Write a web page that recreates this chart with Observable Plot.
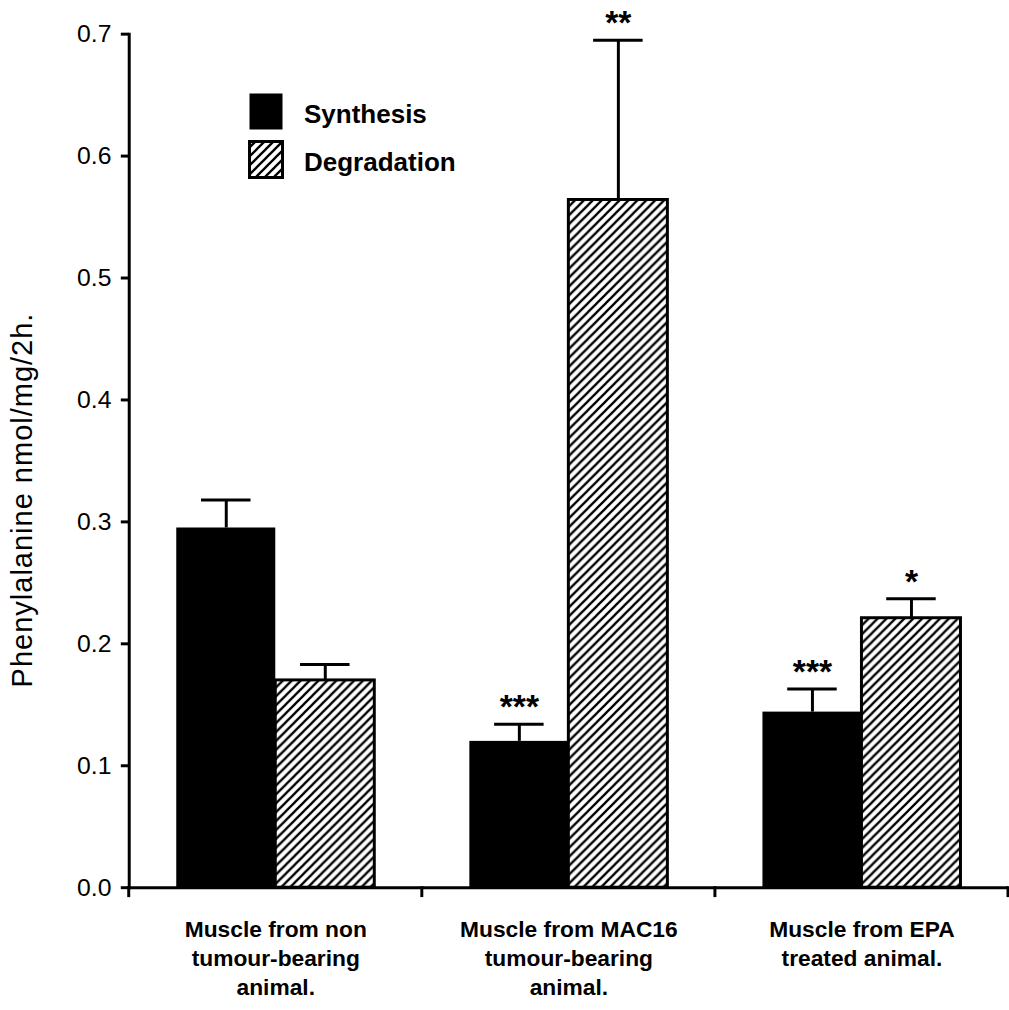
<!DOCTYPE html>
<html>
<head>
<meta charset="utf-8">
<script src="https://cdn.jsdelivr.net/npm/d3@7"></script>
<script src="https://cdn.jsdelivr.net/npm/@observablehq/plot@0.6"></script>
<style>
  html, body { margin: 0; padding: 0; background: #fff; }
  #wrap { position: relative; width: 1009px; height: 1010px; overflow: hidden; }
  #legend { position: absolute; left: 248px; top: 87px; font: bold 26px "Liberation Sans", Arial, sans-serif; color: #000; }
  .item { display: flex; align-items: center; height: 48px; }
  .item svg { margin-right: 20px; display: block; }
  .item span { position: relative; top: 3px; }
  #ytitle {
    position: absolute; left: 22px; top: 500px;
    transform: translate(-50%, -50%) rotate(-90deg);
    white-space: nowrap; font: 29px "Liberation Sans", Arial, sans-serif;
    letter-spacing: 1px; color: #000;
  }
</style>
</head>
<body>
<div id="wrap"><div id="legend"></div><div id="ytitle"></div></div>
<script>
// Protein turnover in gastrocnemius muscle, phenylalanine nmol/mg/2h (mean + SE)
const groups = [
  "Muscle from non\ntumour-bearing\nanimal.",
  "Muscle from MAC16\ntumour-bearing\nanimal.",
  "Muscle from EPA\ntreated animal."
];
const series = ["Synthesis", "Degradation"];
const synthesis = [0.295, 0.120, 0.144];
const synthesisSE = [0.023, 0.014, 0.019];
const degradation = [0.170, 0.564, 0.221];
const degradationSE = [0.013, 0.131, 0.016];
const synthesisSig = ["", "***", "***"];
const degradationSig = ["", "**", "*"];
const yTicks = [0, 0.1, 0.2, 0.3, 0.4, 0.5, 0.6, 0.7];
const yTitle = "Phenylalanine nmol/mg/2h.";

const rows = groups.flatMap((g, i) => [
  {group: g, series: "Synthesis", value: synthesis[i], se: synthesisSE[i], sig: synthesisSig[i]},
  {group: g, series: "Degradation", value: degradation[i], se: degradationSE[i], sig: degradationSig[i]}
]);
const errTop = d => d.value + d.se;

const font = "Liberation Sans, Arial, Helvetica, sans-serif";

const chart = Plot.plot({
  width: 1019,
  height: 1010,
  marginLeft: 129,
  marginRight: 0,
  marginTop: 34,
  marginBottom: 114,
  style: {fontFamily: font, background: "white", color: "black"},
  fx: {domain: groups, padding: 0},
  x: {domain: series, paddingInner: 0, paddingOuter: 0.48, axis: null},
  y: {domain: [0, 0.7]},
  marks: [
    Plot.barY(rows.filter(d => d.series === "Synthesis"), {
      fx: "group", x: "series", y: "value", fill: "black"
    }),
    Plot.barY(rows.filter(d => d.series === "Degradation"), {
      fx: "group", x: "series", y: "value", fill: "url(#hatch)", stroke: "black", strokeWidth: 3
    }),
    Plot.ruleX(rows, {fx: "group", x: "series", y1: "value", y2: errTop, stroke: "black", strokeWidth: 3}),
    Plot.tickY(rows, {fx: "group", x: "series", y: errTop, stroke: "black", strokeWidth: 3, insetLeft: 25, insetRight: 25}),
    Plot.text(rows, {fx: "group", x: "series", y: errTop, text: "sig", dy: -17, fontSize: 34, fontWeight: "bold"}),
    Plot.ruleY([0], {stroke: "black", strokeWidth: 3}),
    Plot.frame({anchor: "left", facetAnchor: "left", stroke: "black", strokeWidth: 3}),
    Plot.axisY({
      ticks: yTicks,
      tickFormat: d3.format(".1f"),
      tickSize: 8,
      tickPadding: 10,
      strokeWidth: 3,
      fontSize: 25,
      label: null
    }),
    Plot.axisFx({
      anchor: "bottom",
      tickSize: 0,
      tickPadding: 29,
      fontSize: 23,
      fontWeight: "bold",
      lineHeight: 1.27,
      label: null
    })
  ]
});

// Hatching for the degradation bars
const svg = d3.select(chart);
svg.insert("defs", ":first-child").html(
  `<pattern id="hatch" patternUnits="userSpaceOnUse" width="9" height="9">
     <rect width="9" height="9" fill="white"/>
     <path d="M-2,2 L2,-2 M0,9 L9,0 M7,11 L11,7" stroke="black" stroke-width="2.3"/>
   </pattern>`
);

// Short downward ticks on the category axis at the group boundaries
const fxScale = chart.scale("fx");
const yScale = chart.scale("y");
const y0 = yScale.apply(0);
const step = fxScale.step ?? fxScale.bandwidth;
const bounds = groups.map(g => fxScale.apply(g));
bounds.push(bounds[bounds.length - 1] + step);
svg.append("g")
  .attr("stroke", "black")
  .attr("stroke-width", 3)
  .selectAll("line")
  .data(bounds)
  .join("line")
  .attr("x1", d => d).attr("x2", d => d)
  .attr("y1", y0 - 1).attr("y2", y0 + 10);

document.getElementById("wrap").prepend(chart);
document.getElementById("ytitle").textContent = yTitle;

// Key
const legend = d3.select("#legend");
const keys = [
  {name: "Synthesis", fill: "black", stroke: "none"},
  {name: "Degradation", fill: "url(#hatch)", stroke: "black"}
];
for (const k of keys) {
  const item = legend.append("div").attr("class", "item");
  const s = item.append("svg").attr("width", 36).attr("height", 39);
  s.append("rect")
    .attr("x", 1.5).attr("y", 1.5).attr("width", 33).attr("height", 36)
    .attr("fill", k.fill).attr("stroke", k.stroke).attr("stroke-width", 3);
  item.append("span").text(k.name);
}
chart.style.display = "block";
</script>
</body>
</html>
